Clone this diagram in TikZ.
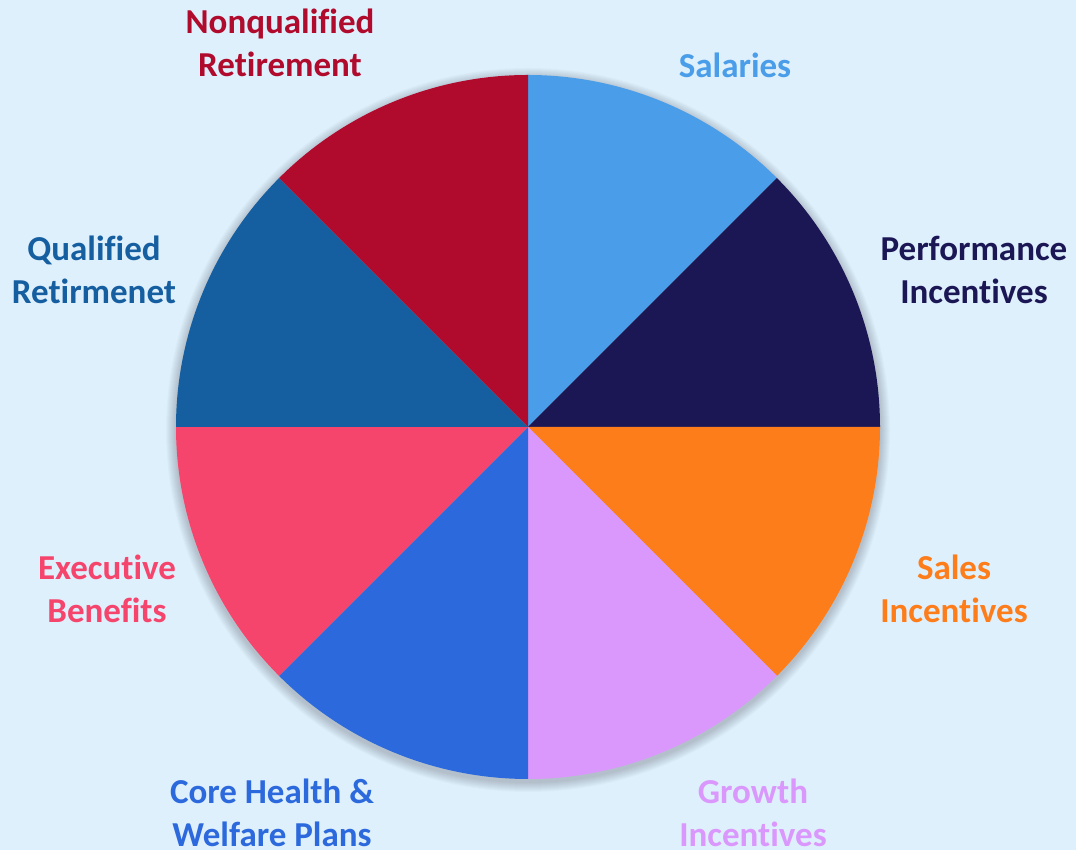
\documentclass[tikz,border=0pt]{standalone}
\usepackage{fontspec}
\setmainfont{Carlito}[Ligatures=NoCommon]
\usetikzlibrary{positioning,calc}
\definecolor{backdrop}{RGB}{223,240,253}
\definecolor{salary}{RGB}{74,157,232}
\definecolor{perf}{RGB}{27,23,85}
\definecolor{sales}{RGB}{253,125,27}
\definecolor{growth}{RGB}{218,152,252}
\definecolor{health}{RGB}{44,105,220}
\definecolor{execben}{RGB}{246,69,108}
\definecolor{qualret}{RGB}{21,94,160}
\definecolor{nonqual}{RGB}{176,10,44}
\tikzset{
  every picture/.style={x=1pt, y=1pt},
  lbl/.style={font=\fontsize{35}{43}\selectfont\bfseries, align=center, inner sep=0pt},
  slice/.style={draw=none},
}

\begin{document}
\begin{tikzpicture}
  \fill[backdrop] (0,0) rectangle (1076,850);
  \useasboundingbox (0,0) rectangle (1076,850);
  \coordinate (c) at (528,423);

  % soft shadow round the pie
  \foreach \k in {1,...,10}
    \fill[black, opacity=0.018] ($(c)+(0,-3)$) circle ({352+\k});

  % eight equal slices, clockwise from the top
  \foreach \from/\col [count=\i] in {90/salary, 45/perf, 0/sales, -45/growth,
                                     -90/health, -135/execben, -180/qualret, -225/nonqual}
    \fill[slice, \col] (c) -- ++(\from:352) arc[start angle=\from, end angle=\from-45, radius=352] -- cycle;

  \node[lbl, text=salary]  (sal)  at (735,785) {Salaries};
  \node[lbl, text=perf]    (perf) at (974,580) {Performance\\Incentives};
  \node[lbl, text=sales]   (sale) at (954,261) {Sales\\Incentives};
  \node[lbl, text=growth]  (grow) at (753,37)  {Growth\\Incentives};
  \node[lbl, text=health]  (hlth) at (272,37)  {Core Health \&\\Welfare Plans};
  \node[lbl, text=execben] (exec) at (107,261) {Executive\\Benefits};
  \node[lbl, text=qualret] (qual) at (94,580)  {Qualified\\Retirmenet};
  \node[lbl, text=nonqual] (nonq) at (280,807) {Nonqualified\\Retirement};
\end{tikzpicture}
\end{document}
